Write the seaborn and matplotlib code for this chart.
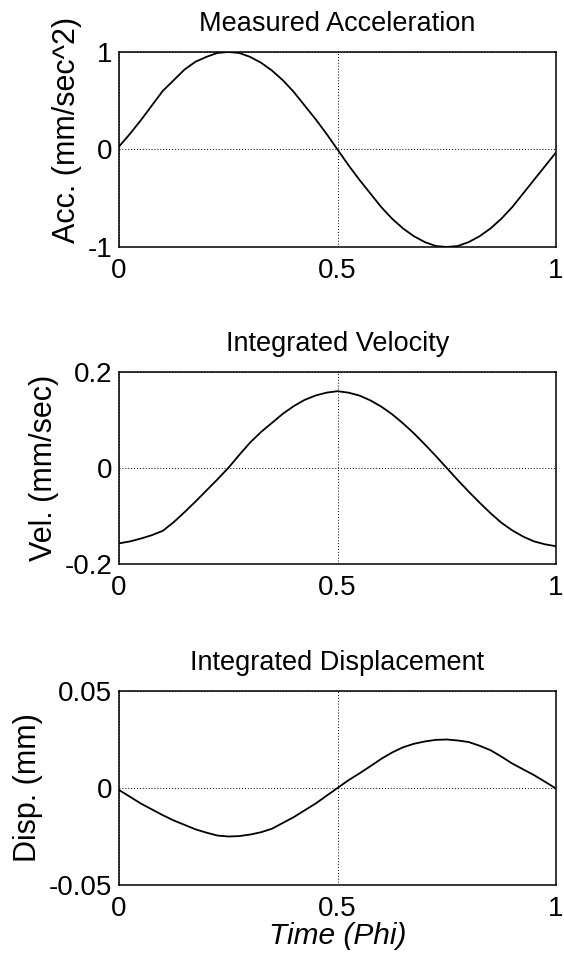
import matplotlib
matplotlib.use("Agg")
import matplotlib.pyplot as plt
import seaborn as sns
import pandas as pd

# ---- data ----
time = [0.000, 0.025, 0.050, 0.075, 0.100, 0.125, 0.150, 0.175, 0.200, 0.225,
        0.250, 0.275, 0.300, 0.325, 0.350, 0.375, 0.400, 0.425, 0.450, 0.475,
        0.500, 0.525, 0.550, 0.575, 0.600, 0.625, 0.650, 0.675, 0.700, 0.725,
        0.750, 0.775, 0.800, 0.825, 0.850, 0.875, 0.900, 0.925, 0.950, 0.975, 1.000]
acc = [0.03, 0.16, 0.30, 0.45, 0.60, 0.71, 0.82, 0.90, 0.95, 0.99,
       1.00, 0.99, 0.95, 0.89, 0.81, 0.71, 0.59, 0.45, 0.31, 0.16,
       0.00, -0.16, -0.31, -0.45, -0.59, -0.71, -0.81, -0.89, -0.95, -0.99,
       -1.00, -0.99, -0.95, -0.89, -0.81, -0.71, -0.59, -0.45, -0.31, -0.17, -0.03]
vel = [-0.157, -0.153, -0.147, -0.140, -0.131, -0.113, -0.092, -0.070, -0.047, -0.024,
       0.000, 0.027, 0.053, 0.075, 0.094, 0.113, 0.129, 0.142, 0.151, 0.157,
       0.160, 0.157, 0.151, 0.141, 0.128, 0.112, 0.093, 0.072, 0.049, 0.025,
       0.000, -0.025, -0.049, -0.072, -0.094, -0.114, -0.130, -0.143, -0.153, -0.159, -0.163]
disp = [-0.0010, -0.0045, -0.0080, -0.0110, -0.0140, -0.0167, -0.0190, -0.0213, -0.0230, -0.0245,
        -0.0250, -0.0248, -0.0240, -0.0228, -0.0210, -0.0180, -0.0150, -0.0115, -0.0080, -0.0040,
        0.0000, 0.0040, 0.0075, 0.0112, 0.0150, 0.0183, 0.0210, 0.0228, 0.0240, 0.0248,
        0.0250, 0.0245, 0.0237, 0.0218, 0.0195, 0.0162, 0.0126, 0.0096, 0.0066, 0.0032, -0.0003]

titles = ["Measured Acceleration", "Integrated Velocity", "Integrated Displacement"]
ylabels = ["Acc. (mm/sec^2)", "Vel. (mm/sec)", "Disp. (mm)"]
xlabel = "Time (Phi)"
xticks = [0, 0.5, 1]
xticklabels = ["0", "0.5", "1"]
yticks = [[-1, 0, 1], [-0.2, 0, 0.2], [-0.05, 0, 0.05]]
yticklabels = [["-1", "0", "1"], ["-0.2", "0", "0.2"], ["-0.05", "0", "0.05"]]

# ---- style ----
sns.set_theme(style="white")
plt.rcParams["font.family"] = ["Liberation Sans", "DejaVu Sans"]

fig = plt.figure(figsize=(5.64, 9.58), dpi=100)
W, H = 564.0, 958.0
left, right = 119, 556
boxes = [(52, 247), (372, 564), (691, 885)]
ylabel_pos = [0.60, 0.5, 0.5]

series = [acc, vel, disp]
for i, (top, bot) in enumerate(boxes):
    ax = fig.add_axes([left / W, 1 - bot / H, (right - left) / W, (bot - top) / H])
    df = pd.DataFrame({"t": time, "v": series[i]})
    sns.lineplot(data=df, x="t", y="v", ax=ax, color="black", lw=1.3)
    ax.set_xlim(0, 1)
    ax.set_ylim(yticks[i][0], yticks[i][-1])
    ax.set_xticks(xticks)
    ax.set_xticklabels(xticklabels)
    ax.set_yticks(yticks[i])
    ax.set_yticklabels(yticklabels[i])
    ax.tick_params(axis="both", length=0, labelsize=20, colors="black")
    ax.tick_params(axis="x", pad=8)
    ax.tick_params(axis="y", pad=5)
    ax.grid(True, linestyle=(0, (1, 2)), color="black", lw=0.7)
    for s in ax.spines.values():
        s.set_visible(True)
        s.set_color("black")
        s.set_linewidth(1.1)
    ax.set_title(titles[i], fontsize=19.5, pad=15, color="black")
    ax.set_ylabel(ylabels[i], fontsize=22, labelpad=4, color="black", y=ylabel_pos[i])
    if i == 2:
        ax.set_xlabel(xlabel, fontsize=21.5, fontstyle="italic", labelpad=0, color="black")
    else:
        ax.set_xlabel("")

fig.savefig("out.png", dpi=100)
